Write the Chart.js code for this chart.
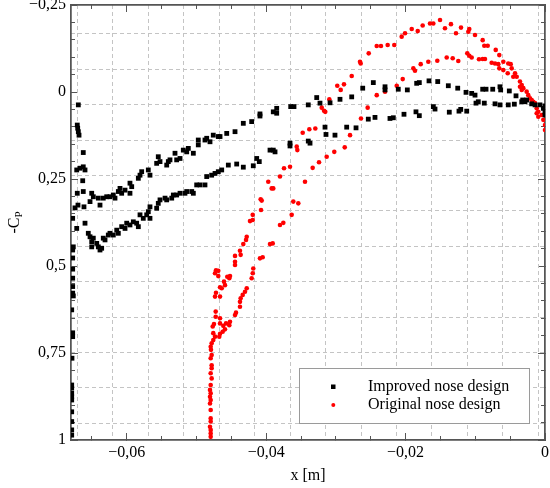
<!DOCTYPE html>
<html>
<head>
<meta charset="utf-8">
<title>-Cp along the nose</title>
<script src="https://cdn.jsdelivr.net/npm/chart.js@4.4.1/dist/chart.umd.min.js"></script>
<style>
    html, body { margin: 0; padding: 0; background: #fff; }
    #wrap { width: 550px; height: 488px; }
</style>
</head>
<body>
<div id="wrap"><canvas id="cp-chart"></canvas></div>
<script>
"use strict";

var seriesNames = ["Improved nose design", "Original nose design"];
var seriesColors = ["#000000", "#ff0000"];

// [x (m), -Cp]
var improvedNose = [
    [-0.06695, 0.037], [-0.06710, 0.095], [-0.06704, 0.104], [-0.06695, 0.114], [-0.06685, 0.124],
    [-0.06624, 0.174], [-0.06718, 0.224], [-0.06671, 0.219], [-0.06624, 0.215], [-0.06599, 0.224],
    [-0.06632, 0.255], [-0.06710, 0.291], [-0.06624, 0.286], [-0.06743, 0.333], [-0.06700, 0.325],
    [-0.06614, 0.330], [-0.06776, 0.363], [-0.06718, 0.392], [-0.06767, 0.445], [-0.06776, 0.454],
    [-0.06776, 0.477], [-0.06776, 0.509], [-0.06776, 0.535], [-0.06776, 0.559], [-0.06776, 0.578],
    [-0.06767, 0.586], [-0.06790, 0.626], [-0.06776, 0.692], [-0.06776, 0.703], [-0.06786, 0.765],
    [-0.06790, 0.842], [-0.06790, 0.851], [-0.06790, 0.866], [-0.06790, 0.876], [-0.06790, 0.885],
    [-0.06790, 0.919], [-0.06790, 0.947], [-0.06790, 0.971], [-0.06790, 0.986],
    // upper branch
    [-0.06527, 0.315], [-0.06480, 0.301], [-0.06503, 0.291], [-0.06408, 0.305], [-0.06384, 0.325],
    [-0.06337, 0.305], [-0.06288, 0.301], [-0.06241, 0.301], [-0.06193, 0.296], [-0.06169, 0.305],
    [-0.06121, 0.286], [-0.06097, 0.277], [-0.06073, 0.291], [-0.06025, 0.282], [-0.05954, 0.291],
    [-0.05954, 0.262], [-0.05929, 0.272], [-0.05834, 0.248], [-0.05810, 0.239], [-0.05786, 0.229],
    [-0.05691, 0.224], [-0.05667, 0.239], [-0.05571, 0.205], [-0.05548, 0.186], [-0.05523, 0.200],
    [-0.05427, 0.210], [-0.05404, 0.200], [-0.05380, 0.195], [-0.05308, 0.176], [-0.05284, 0.195],
    [-0.05236, 0.191], [-0.05189, 0.167], [-0.05140, 0.172], [-0.05117, 0.162], [-0.05045, 0.176],
    [-0.04974, 0.152], [-0.04974, 0.138], [-0.04878, 0.138], [-0.04853, 0.133], [-0.04806, 0.143],
    [-0.04759, 0.124], [-0.04687, 0.128], [-0.04662, 0.128], [-0.04566, 0.119], [-0.04447, 0.114],
    [-0.04328, 0.090], [-0.04208, 0.085], [-0.04089, 0.063], [-0.04089, 0.069], [-0.03898, 0.057],
    [-0.03849, 0.047], [-0.03849, 0.061], [-0.03648, 0.042], [-0.03601, 0.042], [-0.03396, 0.037],
    [-0.03275, 0.016], [-0.03228, 0.032], [-0.03084, 0.031], [-0.02941, 0.021], [-0.02773, 0.014],
    [-0.02615, -0.011], [-0.02463, -0.027], [-0.02295, -0.015], [-0.02295, -0.006], [-0.02105, -0.008],
    [-0.01975, -0.006], [-0.01841, -0.025], [-0.01803, -0.027], [-0.01664, -0.032], [-0.01539, -0.030],
    [-0.01387, -0.018], [-0.01252, -0.011], [-0.01133, 0.001], [-0.01052, 0.004], [-0.01004, 0.009],
    [-0.00894, -0.008], [-0.00846, -0.008], [-0.00750, -0.008], [-0.00646, -0.015], [-0.00636, -0.006],
    [-0.00512, -0.003], [-0.00416, 0.011], [-0.00320, 0.023], [-0.00287, 0.028], [-0.00191, 0.034],
    [-0.00143, 0.037], [-0.00072, 0.037], [-0.00024, 0.047], [0, 0.057], [0, 0.066], [0, 0.040],
    // lower branch
    [-0.06599, 0.377], [-0.06552, 0.406], [-0.06527, 0.416], [-0.06503, 0.430], [-0.06480, 0.420],
    [-0.06503, 0.445], [-0.06431, 0.435], [-0.06408, 0.445], [-0.06384, 0.454], [-0.06360, 0.449],
    [-0.06337, 0.420], [-0.06312, 0.425], [-0.06265, 0.411], [-0.06241, 0.406], [-0.06193, 0.411],
    [-0.06144, 0.397], [-0.06121, 0.406], [-0.06073, 0.387], [-0.06025, 0.392], [-0.06001, 0.377],
    [-0.05954, 0.382], [-0.05906, 0.373], [-0.05858, 0.377], [-0.05834, 0.387], [-0.05810, 0.353],
    [-0.05763, 0.363], [-0.05714, 0.353], [-0.05691, 0.344], [-0.05667, 0.330], [-0.05667, 0.363],
    [-0.05571, 0.334], [-0.05548, 0.320], [-0.05523, 0.310], [-0.05451, 0.305], [-0.05427, 0.310],
    [-0.05355, 0.305], [-0.05332, 0.296], [-0.05284, 0.296], [-0.05236, 0.291], [-0.05165, 0.291],
    [-0.05140, 0.286], [-0.05068, 0.286], [-0.05045, 0.291], [-0.04997, 0.267], [-0.04949, 0.267],
    [-0.04878, 0.267], [-0.04853, 0.243], [-0.04782, 0.239], [-0.04734, 0.234], [-0.04687, 0.229],
    [-0.04638, 0.224], [-0.04543, 0.210], [-0.04423, 0.207], [-0.04328, 0.216], [-0.04185, 0.212],
    [-0.04136, 0.191], [-0.04099, 0.200], [-0.03945, 0.167], [-0.03898, 0.167], [-0.03873, 0.172],
    [-0.03658, 0.147], [-0.03658, 0.155], [-0.03396, 0.141], [-0.03371, 0.147], [-0.03156, 0.101],
    [-0.03142, 0.122], [-0.03013, 0.124], [-0.02845, 0.101], [-0.02711, 0.103], [-0.02535, 0.078],
    [-0.02439, 0.073], [-0.02224, 0.076], [-0.02176, 0.074], [-0.02023, 0.064], [-0.01851, 0.057],
    [-0.01803, 0.068], [-0.01602, 0.042], [-0.01578, 0.049], [-0.01373, 0.058], [-0.01234, 0.055],
    [-0.01209, 0.050], [-0.01123, 0.055], [-0.00990, 0.032], [-0.00957, 0.028], [-0.00871, 0.032],
    [-0.00717, 0.034], [-0.00646, 0.037], [-0.00527, 0.037], [-0.00440, 0.035], [-0.00334, 0.028],
    [-0.00263, 0.023],
];

var originalNose = [
    [-0.04796, 0.991], [-0.04796, 0.981], [-0.04796, 0.971], [-0.04806, 0.962], [-0.04796, 0.947],
    [-0.04796, 0.938], [-0.04796, 0.914], [-0.04806, 0.895], [-0.04796, 0.885], [-0.04806, 0.876],
    [-0.04796, 0.866], [-0.04806, 0.856], [-0.04796, 0.842], [-0.04782, 0.823], [-0.04796, 0.808],
    [-0.04782, 0.794], [-0.04782, 0.785], [-0.04796, 0.765], [-0.04782, 0.756], [-0.04792, 0.741],
    [-0.04796, 0.732], [-0.04782, 0.722], [-0.04759, 0.713], [-0.04734, 0.703], [-0.04759, 0.693],
    [-0.04767, 0.674], [-0.04749, 0.667], [-0.04724, 0.646], [-0.04724, 0.631], [-0.04673, 0.703],
    [-0.04662, 0.695], [-0.04624, 0.689], [-0.04591, 0.682], [-0.04615, 0.672], [-0.04576, 0.665],
    [-0.04529, 0.670], [-0.04519, 0.660], [-0.04447, 0.641], [-0.04433, 0.634], [-0.04662, 0.650],
    [-0.04662, 0.665], [-0.04734, 0.588], [-0.04720, 0.577], [-0.04662, 0.588], [-0.04638, 0.564],
    [-0.04662, 0.561], [-0.04591, 0.555], [-0.04605, 0.545], [-0.04558, 0.531], [-0.04519, 0.529],
    [-0.04529, 0.535], [-0.04687, 0.529], [-0.04720, 0.512], [-0.04687, 0.514], [-0.04734, 0.521],
    [-0.04447, 0.497], [-0.04447, 0.488], [-0.04447, 0.471], [-0.04376, 0.456], [-0.04366, 0.468],
    [-0.04328, 0.437], [-0.04289, 0.425], [-0.04279, 0.416], [-0.04193, 0.368], [-0.04193, 0.353],
    [-0.04232, 0.371], [-0.04074, 0.339], [-0.04064, 0.312], [-0.04079, 0.308], [-0.03970, 0.258],
    [-0.03921, 0.277], [-0.03898, 0.277], [-0.03802, 0.243], [-0.03744, 0.219], [-0.03658, 0.215],
    [-0.03562, 0.157], [-0.03553, 0.167], [-0.03476, 0.117], [-0.03381, 0.107], [-0.03295, 0.105],
    [-0.03203, 0.045], [-0.03170, 0.054], [-0.03152, 0.057], [-0.03094, 0.021], [-0.02980, -0.018],
    [-0.02931, -0.006], [-0.02884, -0.022], [-0.02773, -0.046], [-0.02654, -0.087], [-0.02644, -0.082],
    [-0.02529, -0.111], [-0.02414, -0.132], [-0.02353, -0.132], [-0.02257, -0.135], [-0.02162, -0.135],
    [-0.02056, -0.159], [-0.02008, -0.169], [-0.01912, -0.181], [-0.01826, -0.175], [-0.01755, -0.191],
    [-0.01650, -0.197], [-0.01602, -0.197], [-0.01506, -0.207], [-0.01435, -0.183], [-0.01349, -0.195],
    [-0.01277, -0.169], [-0.01205, -0.185], [-0.01100, -0.173], [-0.01086, -0.181], [-0.01004, -0.164],
    [-0.00894, -0.149], [-0.00871, -0.133], [-0.00822, -0.133], [-0.00707, -0.121], [-0.00656, -0.106],
    [-0.00598, -0.087], [-0.00527, -0.082], [-0.00492, -0.080], [-0.00478, -0.068], [-0.00430, -0.054],
    [-0.00455, -0.044], [-0.00406, -0.044], [-0.00359, -0.030], [-0.00334, -0.020], [-0.00311, -0.011],
    [-0.00263, -0.001], [-0.00240, 0.009], [-0.00215, 0.018], [-0.00168, 0.028], [-0.00119, 0.047],
    [-0.00096, 0.057], [-0.00047, 0.066], [-0.00024, 0.080], [0, 0.095], [0, 0.109],
    // inner branch
    [-0.04376, 0.617], [-0.04376, 0.603], [-0.04366, 0.593], [-0.04337, 0.583], [-0.04304, 0.574],
    [-0.04279, 0.564], [-0.04208, 0.535], [-0.04193, 0.521], [-0.04185, 0.507], [-0.04089, 0.478],
    [-0.04050, 0.475], [-0.03945, 0.437], [-0.03906, 0.435], [-0.03802, 0.382], [-0.03754, 0.376],
    [-0.03634, 0.353], [-0.03611, 0.315], [-0.03539, 0.320], [-0.03443, 0.258], [-0.03333, 0.218],
    [-0.03242, 0.202], [-0.03132, 0.186], [-0.03023, 0.172], [-0.02873, 0.159], [-0.02797, 0.124],
    [-0.02640, 0.076], [-0.02544, 0.045], [-0.02414, 0.009], [-0.02295, -0.001], [-0.02127, -0.018],
    [-0.02041, -0.037], [-0.01889, -0.068], [-0.01865, -0.061], [-0.01783, -0.080], [-0.01674, -0.087],
    [-0.01545, -0.090], [-0.01410, -0.099], [-0.01324, -0.097], [-0.01244, -0.089], [-0.01115, -0.111],
    [-0.01086, -0.104], [-0.01052, -0.099], [-0.00947, -0.094], [-0.00894, -0.095], [-0.00861, -0.095],
    [-0.00765, -0.084], [-0.00717, -0.082], [-0.00670, -0.080], [-0.00656, -0.068], [-0.00598, -0.063],
    [-0.00535, -0.054], [-0.00359, -0.015], [-0.00334, -0.006], [-0.00191, 0.023], [-0.00143, 0.032],
    [-0.00119, 0.061], [-0.00096, 0.071],
];

var xRange = [-0.068, 0];
var yRange = [-0.25, 1];
var xTickValues = [-0.06, -0.04, -0.02, 0];
var xTickLabels = ["−0,06", "−0,04", "−0,02", "0"];
var yTickValues = [-0.25, 0, 0.25, 0.5, 0.75, 1];
var yTickLabels = ["−0,25", "0", "0,25", "0,5", "0,75", "1"];

var serif = "'Liberation Serif', 'Times New Roman', serif";
var axisFont = { family: serif, size: 16 };
var frameColor = "#555555";
var gridColor = "#c4c4c4";

function steps(from, to, step) {
    var out = [];
    var n = Math.round((to - from) / step);
    for (var i = 0; i <= n; i++) {
        out.push(Math.round((from + i * step) * 1e6) / 1e6);
    }
    return out;
}

var xMinorTicks = steps(-0.065, 0, 0.005);
var yMinorTicks = steps(-0.25, 1, 0.05);
// the dashed grid does not line up with the ticks in the original
var gridColumns = steps(0, 13, 1);
var gridRows = steps(0, 11, 1);

function setTicks(values) {
    return function (scale) {
        scale.ticks = values.map(function (v) {
            return { value: v };
        });
    };
}

// fixed axis size, and no extra room for overhanging labels
function fixSize(size) {
    return function (scale) {
        if (scale.isHorizontal()) {
            scale.height = size;
        } else {
            scale.width = size;
        }
        scale.paddingLeft = 0;
        scale.paddingRight = 0;
        scale.paddingTop = 0;
        scale.paddingBottom = 0;
    };
}

// tick-only axis drawn on the frame, ticks pointing inwards
function frameAxis(position, range, values, tickLength, weight) {
    return {
        type: "linear",
        position: position,
        min: range[0],
        max: range[1],
        reverse: position === "left" || position === "right",
        weight: weight,
        afterBuildTicks: setTicks(values),
        afterFit: fixSize(0),
        ticks: { display: false, autoSkip: false },
        grid: {
            drawOnChartArea: false,
            drawTicks: true,
            tickLength: tickLength,
            tickColor: frameColor,
            tickWidth: 1,
        },
        border: { display: true, color: frameColor, width: 1.5 },
    };
}

var legendBox = {
    id: "legendBox",
    afterDraw: function (chart) {
        var ctx = chart.ctx;
        var area = chart.chartArea;

        // -Cp title with subscript
        ctx.save();
        ctx.translate(15, (area.top + area.bottom) / 2);
        ctx.rotate(-Math.PI / 2);
        ctx.fillStyle = "#000";
        ctx.textBaseline = "middle";
        ctx.textAlign = "left";
        ctx.font = "16px " + serif;
        var w1 = ctx.measureText("-C").width;
        ctx.font = "11px " + serif;
        var w2 = ctx.measureText("P").width;
        var x0 = -(w1 + w2) / 2;
        ctx.font = "16px " + serif;
        ctx.fillText("-C", x0, 0);
        ctx.font = "11px " + serif;
        ctx.fillText("P", x0 + w1, 4);
        ctx.restore();

        // legend
        ctx.save();
        ctx.fillStyle = "#ffffff";
        ctx.fillRect(299.5, 368.5, 230, 55);
        ctx.strokeStyle = "#9a9a9a";
        ctx.lineWidth = 1;
        ctx.strokeRect(299.5, 368.5, 230, 55);
        chart.data.datasets.forEach(function (ds, i) {
            var y = 386.5 + i * 18.5;
            ctx.fillStyle = ds.pointBackgroundColor;
            if (ds.pointStyle === "rect") {
                ctx.fillRect(331, y - 2, 4.5, 4.5);
            } else {
                ctx.beginPath();
                ctx.arc(333.3, y, 2, 0, 2 * Math.PI);
                ctx.fill();
            }
            ctx.fillStyle = "#000";
            ctx.font = "16px " + serif;
            ctx.textBaseline = "middle";
            ctx.textAlign = "left";
            ctx.fillText(ds.label, 368, y);
        });
        ctx.restore();
    },
};

function toPoints(list) {
    return list.map(function (p) {
        return { x: p[0], y: p[1] };
    });
}

var ctx = document.getElementById("cp-chart").getContext("2d");

new Chart(ctx, {
    type: "scatter",
    data: {
        datasets: [
            {
                label: seriesNames[0],
                data: toPoints(improvedNose),
                pointStyle: "rect",
                pointRadius: 3.4,
                pointHoverRadius: 3.4,
                pointBackgroundColor: seriesColors[0],
                backgroundColor: seriesColors[0],
                pointBorderWidth: 0,
            },
            {
                label: seriesNames[1],
                data: toPoints(originalNose),
                pointStyle: "circle",
                pointRadius: 2.3,
                pointHoverRadius: 2.3,
                pointBackgroundColor: seriesColors[1],
                backgroundColor: seriesColors[1],
                pointBorderWidth: 0,
            },
        ],
    },
    options: {
        responsive: true,
        maintainAspectRatio: false,
        animation: false,
        layout: { padding: { top: 5, right: 5, left: 0, bottom: 0 } },
        scales: {
            x: {
                type: "linear",
                position: "bottom",
                min: xRange[0],
                max: xRange[1],
                weight: 1,
                afterBuildTicks: setTicks(xTickValues),
                afterFit: fixSize(48),
                ticks: {
                    autoSkip: false,
                    minRotation: 0,
                    maxRotation: 0,
                    padding: 10,
                    color: "#000",
                    font: axisFont,
                    callback: function (value, index) {
                        return xTickLabels[index];
                    },
                },
                grid: {
                    drawOnChartArea: false,
                    tickLength: -7,
                    tickColor: frameColor,
                    tickWidth: 1,
                },
                border: { color: frameColor, width: 1.5 },
                title: {
                    display: true,
                    text: "x [m]",
                    color: "#000",
                    font: axisFont,
                    padding: { top: 0, bottom: 3 },
                },
            },
            y: {
                type: "linear",
                position: "left",
                min: yRange[0],
                max: yRange[1],
                reverse: true,
                weight: 1,
                afterBuildTicks: setTicks(yTickValues),
                afterFit: fixSize(71),
                ticks: {
                    autoSkip: false,
                    padding: 12,
                    color: "#000",
                    font: axisFont,
                    callback: function (value, index) {
                        return yTickLabels[index];
                    },
                },
                grid: {
                    drawOnChartArea: false,
                    tickLength: -7,
                    tickColor: frameColor,
                    tickWidth: 1,
                },
                border: { color: frameColor, width: 1.5 },
            },
            xMinor: frameAxis("bottom", xRange, xMinorTicks, -4, 0),
            xTop: frameAxis("top", xRange, xTickValues, -7, 1),
            xTopMinor: frameAxis("top", xRange, xMinorTicks, -4, 0),
            yMinor: frameAxis("left", yRange, yMinorTicks, -4, 0),
            yRight: frameAxis("right", yRange, yTickValues, -7, 1),
            yRightMinor: frameAxis("right", yRange, yMinorTicks, -4, 0),
            gridX: {
                type: "linear",
                position: "bottom",
                min: -0.178,
                max: 13.186,
                weight: 0,
                afterBuildTicks: setTicks(gridColumns),
                afterFit: fixSize(0),
                ticks: { display: false },
                grid: { color: gridColor, lineWidth: 1, drawTicks: false },
                border: { display: false, dash: [4, 3] },
            },
            gridY: {
                type: "linear",
                position: "left",
                min: -0.819,
                max: 11.469,
                reverse: true,
                weight: 0,
                afterBuildTicks: setTicks(gridRows),
                afterFit: fixSize(0),
                ticks: { display: false },
                grid: { color: gridColor, lineWidth: 1, drawTicks: false },
                border: { display: false, dash: [4, 3] },
            },
        },
        plugins: {
            legend: { display: false },
            tooltip: { enabled: false },
        },
    },
    plugins: [legendBox],
});
</script>
</body>
</html>
